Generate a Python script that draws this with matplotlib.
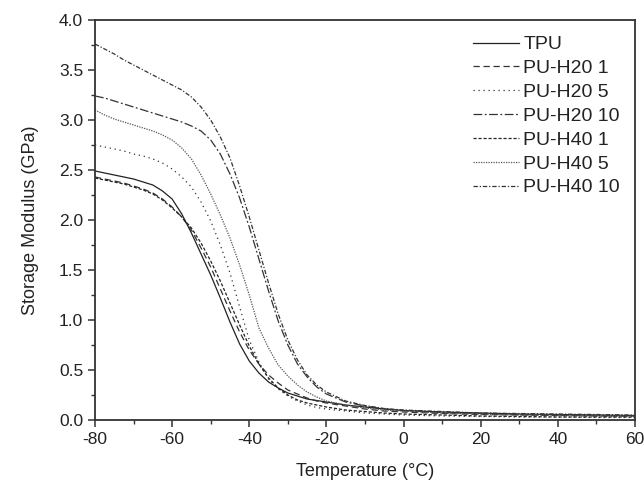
import numpy as np
import matplotlib.pyplot as plt
from matplotlib.ticker import MultipleLocator

plt.rcParams['font.family'] = ['Liberation Sans', 'DejaVu Sans']
plt.rcParams['axes.unicode_minus'] = False

# temperature points (degC)
temp = [-80, -77.5, -75, -72.5, -70, -67.5, -65, -62.5, -60, -57.5, -55, -52.5,
        -50, -47.5, -45, -42.5, -40, -37.5, -35, -32.5, -30, -27.5, -25, -22.5,
        -20, -15, -10, -5, 0, 10, 20, 30, 40, 50, 60]

# storage modulus (GPa)
tpu = [2.49, 2.47, 2.45, 2.43, 2.41, 2.38, 2.35, 2.29, 2.21, 2.06, 1.87, 1.66,
       1.45, 1.22, 0.98, 0.76, 0.59, 0.47, 0.38, 0.32, 0.27, 0.24, 0.21, 0.195,
       0.18, 0.15, 0.13, 0.11, 0.095, 0.08, 0.07, 0.06, 0.055, 0.05, 0.045]
h20_1 = [2.43, 2.41, 2.39, 2.37, 2.34, 2.31, 2.27, 2.21, 2.13, 2.03, 1.90, 1.72,
         1.53, 1.31, 1.09, 0.88, 0.70, 0.56, 0.45, 0.37, 0.30, 0.26, 0.22, 0.19,
         0.17, 0.14, 0.11, 0.09, 0.08, 0.065, 0.055, 0.05, 0.045, 0.04, 0.04]
h20_5 = [2.75, 2.73, 2.71, 2.69, 2.66, 2.64, 2.61, 2.57, 2.51, 2.43, 2.33, 2.18,
         1.99, 1.75, 1.47, 1.13, 0.80, 0.58, 0.41, 0.31, 0.24, 0.19, 0.15, 0.125,
         0.11, 0.09, 0.07, 0.06, 0.05, 0.04, 0.035, 0.03, 0.03, 0.025, 0.025]
h20_10 = [3.24, 3.22, 3.19, 3.16, 3.13, 3.10, 3.07, 3.04, 3.01, 2.98, 2.94, 2.89,
          2.80, 2.66, 2.46, 2.22, 1.93, 1.61, 1.29, 0.99, 0.75, 0.56, 0.43, 0.33,
          0.26, 0.18, 0.14, 0.11, 0.095, 0.075, 0.065, 0.055, 0.05, 0.045, 0.04]
h40_1 = [2.42, 2.40, 2.38, 2.36, 2.33, 2.30, 2.26, 2.20, 2.12, 2.03, 1.92, 1.77,
         1.59, 1.39, 1.17, 0.95, 0.74, 0.56, 0.42, 0.32, 0.25, 0.20, 0.17, 0.15,
         0.13, 0.10, 0.085, 0.07, 0.06, 0.05, 0.04, 0.035, 0.03, 0.03, 0.03]
h40_5 = [3.10, 3.05, 3.01, 2.98, 2.95, 2.92, 2.89, 2.85, 2.80, 2.72, 2.61, 2.45,
         2.26, 2.05, 1.82, 1.55, 1.25, 0.92, 0.72, 0.55, 0.44, 0.35, 0.28, 0.23,
         0.19, 0.15, 0.12, 0.10, 0.09, 0.07, 0.06, 0.05, 0.05, 0.045, 0.04]
h40_10 = [3.76, 3.71, 3.66, 3.60, 3.55, 3.50, 3.45, 3.40, 3.35, 3.30, 3.23, 3.13,
          3.00, 2.83, 2.62, 2.34, 2.03, 1.70, 1.37, 1.06, 0.80, 0.60, 0.45, 0.35,
          0.28, 0.19, 0.145, 0.115, 0.10, 0.085, 0.07, 0.065, 0.06, 0.055, 0.05]

labels = ['TPU', 'PU-H20 1', 'PU-H20 5', 'PU-H20 10', 'PU-H40 1', 'PU-H40 5', 'PU-H40 10']
series = [tpu, h20_1, h20_5, h20_10, h40_1, h40_5, h40_10]
styles = ['-', (0, (5, 3)), (0, (1, 3)), (0, (7, 2, 1.5, 2)),
          (0, (2.5, 1.5)), (0, (1, 1)), (0, (3.5, 1.5, 1, 1.5))]
colors = ['#222222', '#333333', '#333333', '#333333', '#222222', '#555555', '#333333']

fig = plt.figure(figsize=(6.44, 4.83), dpi=100)
ax = fig.add_axes([0.1475, 0.1304, 0.8385, 0.8282])

for y, lab, ls, c in zip(series, labels, styles, colors):
    ax.plot(temp, y, linestyle=ls, color=c, linewidth=0.9, label=lab)

ax.set_xlim(-80, 60)
ax.set_ylim(0, 4.0)
ax.xaxis.set_major_locator(MultipleLocator(20))
ax.xaxis.set_minor_locator(MultipleLocator(10))
ax.yaxis.set_major_locator(MultipleLocator(0.5))
ax.yaxis.set_minor_locator(MultipleLocator(0.25))
ax.yaxis.set_major_formatter(plt.FormatStrFormatter('%.1f'))

for s in ax.spines.values():
    s.set_color('#333333')
    s.set_linewidth(1.3)
ax.tick_params(which='major', direction='out', length=5, width=1.1,
               color='#333333', labelsize=12.5, labelcolor='#222222')
ax.tick_params(which='minor', direction='out', length=3, width=1.0, color='#333333')

ax.set_xlabel('Temperature (\u00b0C)', fontsize=13, color='#222222', labelpad=12)
ax.set_ylabel('Storage Modulus (GPa)', fontsize=13, color='#222222', labelpad=14)

ax.legend(loc='upper left', bbox_to_anchor=(0.719, 0.946), bbox_transform=fig.transFigure,
          frameon=False, fontsize=14, handlelength=2.4, handletextpad=0.2,
          labelspacing=0.32, borderpad=0, labelcolor='#222222')

plt.savefig('out.png', dpi=100)
